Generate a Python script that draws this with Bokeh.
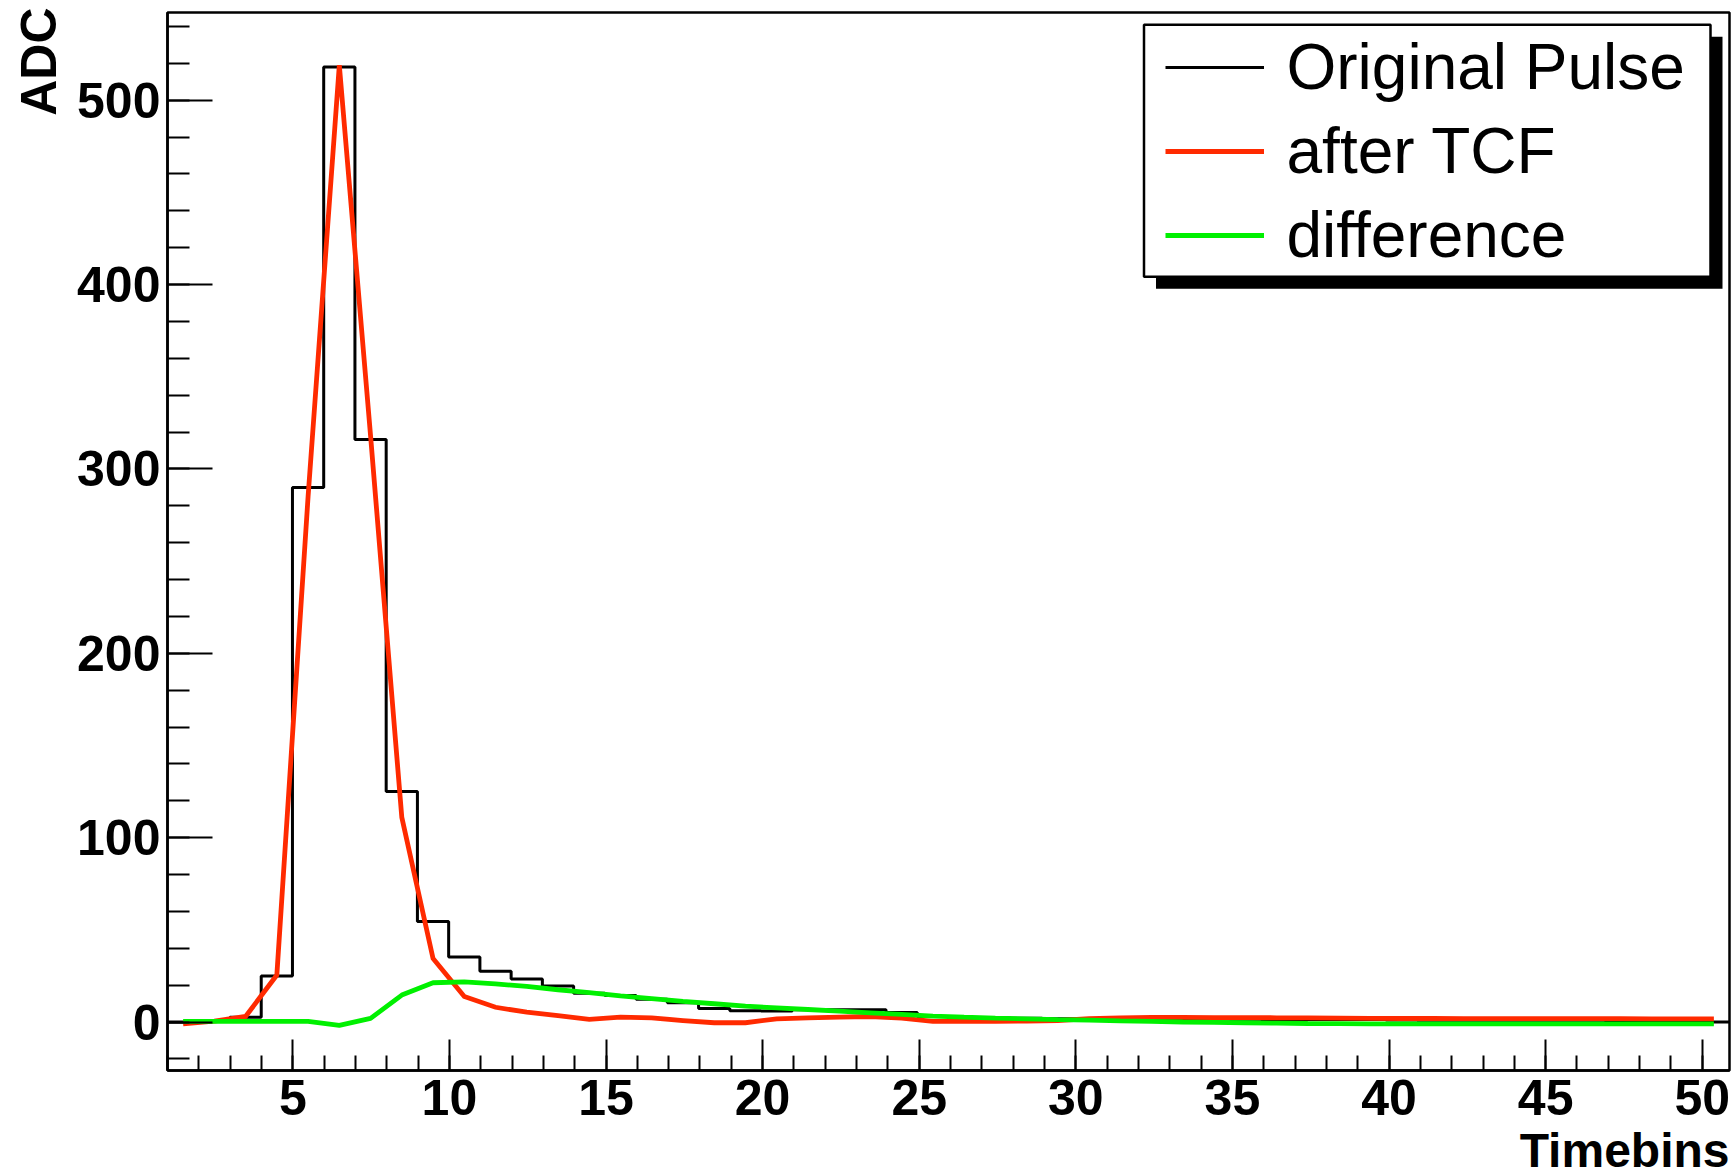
import numpy as np
from bokeh.plotting import figure
from bokeh.models import Range1d, SingleIntervalTicker, Legend, LegendItem, Title
from bokeh.embed import file_html
from bokeh.resources import INLINE

# ---------------- data ----------------
timebin_range = [1.0, 50.87]
adc_range = [-26.3, 547.6]
n_bins = 50

original_pulse = [0.0, 0.5, 2.6, 25.0, 290.0, 518.0, 316.0, 125.0, 54.5, 35.3,
                  27.5, 23.3, 19.6, 15.6, 14.4, 12.4, 10.5, 7.3, 6.1, 6.0,
                  6.6, 6.6, 6.6, 5.2, 3.0, 2.5, 2.2, 2.0, 1.8, 1.8,
                  1.7, 1.7, 1.6, 1.6, 1.5, 1.4, 1.4, 1.3, 1.3, 1.1,
                  1.0, 1.0, 1.0, 1.0, 1.0, 0.9, 0.8, 0.8, 0.8, 0.0]

after_tcf = [-1.0, 0.5, 3.0, 25.5, 285.0, 519.0, 318.0, 111.0, 34.5, 13.8,
             8.0, 5.3, 3.5, 1.4, 2.6, 2.3, 0.8, -0.4, -0.4, 1.7,
             2.3, 2.6, 3.0, 2.1, 0.4, 0.3, 0.3, 0.5, 0.8, 1.8,
             2.3, 2.5, 2.5, 2.4, 2.4, 2.3, 2.2, 2.1, 2.0, 1.9,
             1.9, 1.8, 1.8, 1.8, 1.8, 1.8, 1.8, 1.7, 1.7, 1.7]

difference = [0.3, 0.3, 0.3, 0.3, 0.3, -1.8, 2.0, 14.6, 21.3, 21.8,
              20.7, 19.3, 17.5, 15.9, 14.2, 12.7, 11.2, 9.9, 8.6, 7.7,
              6.8, 5.9, 5.0, 4.1, 3.2, 2.6, 2.1, 1.7, 1.3, 1.0,
              0.6, 0.3, 0.0, -0.2, -0.4, -0.6, -0.8, -0.9, -1.0, -1.0,
              -1.0, -1.0, -1.0, -1.0, -1.0, -1.0, -1.0, -1.0, -1.0, -1.0]

legend_labels = ["Original Pulse", "after TCF", "difference"]
x_title = "Timebins"
y_title = "ADC"

# ---------------- layout ----------------
XMIN, XMAX = timebin_range
YMIN, YMAX = adc_range
FW, FH = 1562, 1058

edges = np.linspace(XMIN, XMAX, n_bins + 1)
centers = 0.5 * (edges[:-1] + edges[1:])

p = figure(frame_width=FW, frame_height=FH,
           x_range=Range1d(XMIN, XMAX), y_range=Range1d(YMIN, YMAX),
           output_backend="svg", toolbar_location=None,
           min_border_left=167, min_border_right=5,
           min_border_top=12, min_border_bottom=103)
p.title = None
p.grid.visible = False
p.background_fill_color = "white"
p.border_fill_color = "white"
p.outline_line_color = "black"
p.outline_line_width = 2.5
p.outline_line_alpha = 1.0

FONT = "Liberation Sans"
for ax in (p.xaxis[0], p.yaxis[0]):
    ax.axis_line_width = 2.5
    ax.axis_line_color = "black"
    ax.major_tick_line_width = 2
    ax.minor_tick_line_width = 2
    ax.major_tick_line_color = "black"
    ax.minor_tick_line_color = "black"
    ax.major_tick_out = 0
    ax.minor_tick_out = 0
    ax.major_label_text_font = FONT
    ax.major_label_text_font_style = "bold"
    ax.major_label_text_font_size = "50px"
    ax.major_label_text_color = "black"

xa, ya = p.xaxis[0], p.yaxis[0]
xa.ticker = SingleIntervalTicker(interval=5, num_minor_ticks=5)
ya.ticker = SingleIntervalTicker(interval=100, num_minor_ticks=5)
xa.major_tick_in = 31
xa.minor_tick_in = 15
xa.major_label_standoff = 9
ya.major_tick_in = 45
ya.minor_tick_in = 22
ya.major_label_standoff = 7


def fx(px):
    return XMIN + px / FW * (XMAX - XMIN)


def fy(py):
    return YMAX - py / FH * (YMAX - YMIN)


# legend shadow and box (pixel offsets inside the frame)
box_l, box_r, box_t, box_b = 976.5, 1543.0, 12.3, 264.3
sh = 12.0
p.quad(left=fx(box_l + sh), right=fx(box_r + sh), top=fy(box_t + sh), bottom=fy(box_b + sh),
       fill_color="black", line_color=None)
p.quad(left=fx(box_l), right=fx(box_r), top=fy(box_t), bottom=fy(box_b),
       fill_color="white", line_color="black", line_width=2.5)

hist_y = list(original_pulse) + [original_pulse[-1]]
r_hist = p.step(x=list(edges), y=hist_y, mode="after", line_color="black", line_width=3)
r_tcf = p.line(x=list(centers), y=after_tcf, line_color="#ff2a00", line_width=4.8, line_join="miter")
r_diff = p.line(x=list(centers), y=difference, line_color="#00f000", line_width=4.8)
# legend key style for the histogram (thicker line, draws nothing in the plot)
r_hist_key = p.line(x=[], y=[], line_color="black", line_width=4.8)

legend = Legend(
    items=[LegendItem(label=legend_labels[0], renderers=[r_hist, r_hist_key]),
           LegendItem(label=legend_labels[1], renderers=[r_tcf]),
           LegendItem(label=legend_labels[2], renderers=[r_diff])],
    location=(box_l + 15.0, FH - 269.0),
    padding=6, spacing=4, margin=0,
    glyph_width=99, glyph_height=80, label_height=80, label_standoff=23,
    label_text_font=FONT, label_text_font_size="64px", label_text_color="black",
    border_line_alpha=0, background_fill_alpha=0,
)
p.add_layout(legend)

# axis titles as side-panel titles, aligned to the frame ends
t_y = Title(text=y_title, align="right", vertical_align="bottom", standoff=16,
            text_font=FONT, text_font_style="bold", text_font_size="50px",
            text_color="black")
t_x = Title(text=x_title, align="right", vertical_align="bottom", standoff=8,
            text_font=FONT, text_font_style="bold", text_font_size="48px",
            text_color="black")
if "offset" in Title.properties():
    t_y.offset = -5
p.add_layout(t_y, "left")
p.add_layout(t_x, "below")

open("out.html", "w").write(file_html(p, INLINE))
